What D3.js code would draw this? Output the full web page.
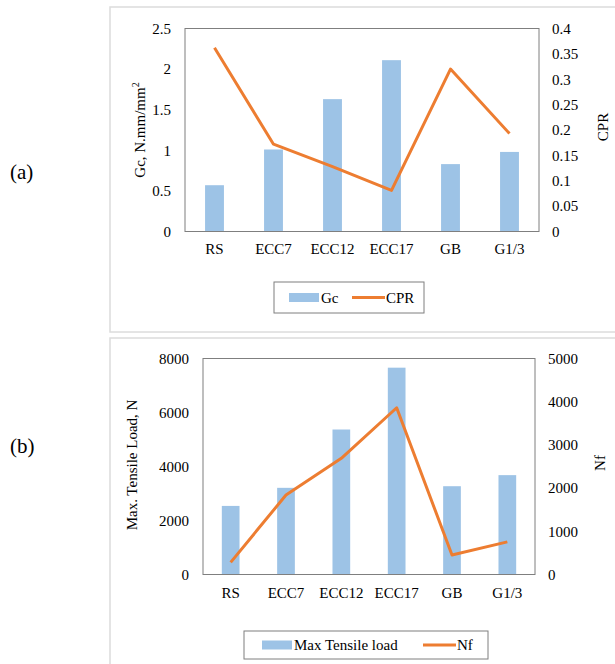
<!DOCTYPE html>
<html>
<head>
<meta charset="utf-8">
<script src="https://cdn.jsdelivr.net/npm/d3@7"></script>
<style>
  body { margin: 0; background: #fff; }
  svg text { font-family: "Liberation Serif", "Times New Roman", serif; fill: #000; }
</style>
</head>
<body>
<div id="chart"></div>
<script>
// categories shared by both panels
var categories = ["RS", "ECC7", "ECC12", "ECC17", "GB", "G1/3"];

// panel (a)
var gcValues  = [0.57, 1.01, 1.63, 2.11, 0.83, 0.98];
var cprValues = [0.362, 0.172, 0.128, 0.081, 0.320, 0.193];
var gcTicks  = [0, 0.5, 1, 1.5, 2, 2.5];
var cprTicks = [0, 0.05, 0.1, 0.15, 0.2, 0.25, 0.3, 0.35, 0.4];

// panel (b)
var loadValues = [2540, 3210, 5370, 7660, 3270, 3680];
var nfValues   = [280, 1840, 2690, 3860, 450, 755];
var loadTicks = [0, 2000, 4000, 6000, 8000];
var nfTicks   = [0, 1000, 2000, 3000, 4000, 5000];

var barColor = "#9dc3e6",
    lineColor = "#ed7d31",
    serif = "'Liberation Serif', 'Times New Roman', serif";

var svg = d3.select("#chart")
  .append("svg")
    .attr("width", 615)
    .attr("height", 664);

// outer frames
svg.append("rect")
  .attr("x", 110).attr("y", 7)
  .attr("width", 520).attr("height", 325)
  .attr("fill", "none").attr("stroke", "#dcdcdc").attr("stroke-width", 1.5);
svg.append("rect")
  .attr("x", 110).attr("y", 338)
  .attr("width", 520).attr("height", 340)
  .attr("fill", "none").attr("stroke", "#dcdcdc").attr("stroke-width", 1.5);

// panel labels
svg.append("text").attr("x", 10).attr("y", 179)
  .style("font-size", "21px").text("(a)");
svg.append("text").attr("x", 10).attr("y", 453)
  .style("font-size", "21px").text("(b)");

function styleAxis(g) {
  g.attr("font-family", null).attr("font-size", null);
  g.select(".domain").remove();
  g.selectAll("text")
    .style("font-family", serif)
    .style("font-size", "15px")
    .attr("fill", "#000");
}

function drawPanel(o) {
  var x = d3.scaleBand()
    .domain(categories)
    .range([o.left, o.right])
    .paddingInner(0.68)
    .paddingOuter(0.34);

  var yL = d3.scaleLinear().domain(o.leftDomain).range([o.bottom, o.top]);
  var yR = d3.scaleLinear().domain(o.rightDomain).range([o.bottom, o.top]);

  // bars
  svg.append("g").selectAll("rect")
    .data(o.bars)
    .enter().append("rect")
      .attr("x", function(d, i) { return x(categories[i]); })
      .attr("y", function(d) { return yL(d); })
      .attr("width", x.bandwidth())
      .attr("height", function(d) { return o.bottom - yL(d); })
      .attr("fill", barColor);

  // plot border
  svg.append("rect")
    .attr("x", o.left).attr("y", o.top)
    .attr("width", o.right - o.left).attr("height", o.bottom - o.top)
    .attr("fill", "none").attr("stroke", "#7f7f7f").attr("stroke-width", 1);

  // line
  svg.append("path")
    .datum(o.line)
    .attr("fill", "none")
    .attr("stroke", lineColor)
    .attr("stroke-width", 3)
    .attr("stroke-linejoin", "round")
    .attr("d", d3.line()
      .x(function(d, i) { return x(categories[i]) + x.bandwidth() / 2; })
      .y(function(d) { return yR(d); }));

  // left axis
  svg.append("g")
    .attr("transform", "translate(" + o.left + ",0)")
    .call(d3.axisLeft(yL).tickValues(o.leftTicks).tickSize(0).tickPadding(o.leftPad)
      .tickFormat(function(d) { return String(d); }))
    .call(styleAxis);

  // right axis
  svg.append("g")
    .attr("transform", "translate(" + o.right + ",0)")
    .call(d3.axisRight(yR).tickValues(o.rightTicks).tickSize(0).tickPadding(o.rightPad)
      .tickFormat(function(d) { return String(d); }))
    .call(styleAxis);

  // category axis
  svg.append("g")
    .attr("transform", "translate(0," + o.bottom + ")")
    .call(d3.axisBottom(x).tickSize(0).tickPadding(o.xPad))
    .call(styleAxis);

  // axis titles
  var lt = svg.append("text")
    .attr("transform", "translate(" + o.leftTitleX + "," + o.leftTitleY + ")rotate(-90)")
    .attr("text-anchor", "middle")
    .style("font-size", "15px");
  lt.append("tspan").text(o.leftTitle);
  if (o.leftSup) {
    lt.append("tspan").attr("dy", -6).style("font-size", "10px").text(o.leftSup);
  }
  svg.append("text")
    .attr("transform", "translate(" + o.rightTitleX + "," + o.rightTitleY + ")rotate(-90)")
    .attr("text-anchor", "middle")
    .style("font-size", "15px")
    .text(o.rightTitle);

  // legend
  var L = o.legend;
  svg.append("rect")
    .attr("x", L.x).attr("y", L.y).attr("width", L.w).attr("height", L.h)
    .attr("fill", "#fff").attr("stroke", "#7f7f7f").attr("stroke-width", 1);
  var cy = L.y + L.h / 2;
  svg.append("rect")
    .attr("x", L.barX).attr("y", cy - 4.5).attr("width", 30).attr("height", 9)
    .attr("fill", barColor);
  svg.append("text").attr("x", L.barX + 32).attr("y", cy + 5)
    .style("font-size", "15px").text(L.barName);
  svg.append("line")
    .attr("x1", L.lineX).attr("x2", L.lineX + 33)
    .attr("y1", cy).attr("y2", cy)
    .attr("stroke", lineColor).attr("stroke-width", 3);
  svg.append("text").attr("x", L.lineX + 34).attr("y", cy + 5)
    .style("font-size", "15px").text(L.lineName);
}

drawPanel({
  left: 185, right: 539, top: 28.5, bottom: 231.5,
  bars: gcValues, line: cprValues,
  leftDomain: [0, 2.5], rightDomain: [0, 0.4],
  leftTicks: gcTicks, rightTicks: cprTicks,
  leftPad: 14, rightPad: 13, xPad: 12,
  leftTitle: "Gc, N.mm/mm", leftSup: "2", leftTitleX: 145, leftTitleY: 130,
  rightTitle: "CPR", rightTitleX: 608, rightTitleY: 127,
  legend: { x: 274, y: 282, w: 150, h: 31, barX: 289, barName: "Gc", lineX: 352, lineName: "CPR" }
});

drawPanel({
  left: 203, right: 535, top: 358.5, bottom: 574.5,
  bars: loadValues, line: nfValues,
  leftDomain: [0, 8000], rightDomain: [0, 5000],
  leftTicks: loadTicks, rightTicks: nfTicks,
  leftPad: 14, rightPad: 13, xPad: 13,
  leftTitle: "Max.  Tensile Load, N", leftSup: null, leftTitleX: 137, leftTitleY: 465,
  rightTitle: "Nf", rightTitleX: 605, rightTitleY: 463,
  legend: { x: 244, y: 631, w: 244, h: 28, barX: 262, barName: "Max Tensile load", lineX: 423, lineName: "Nf" }
});
</script>
</body>
</html>
